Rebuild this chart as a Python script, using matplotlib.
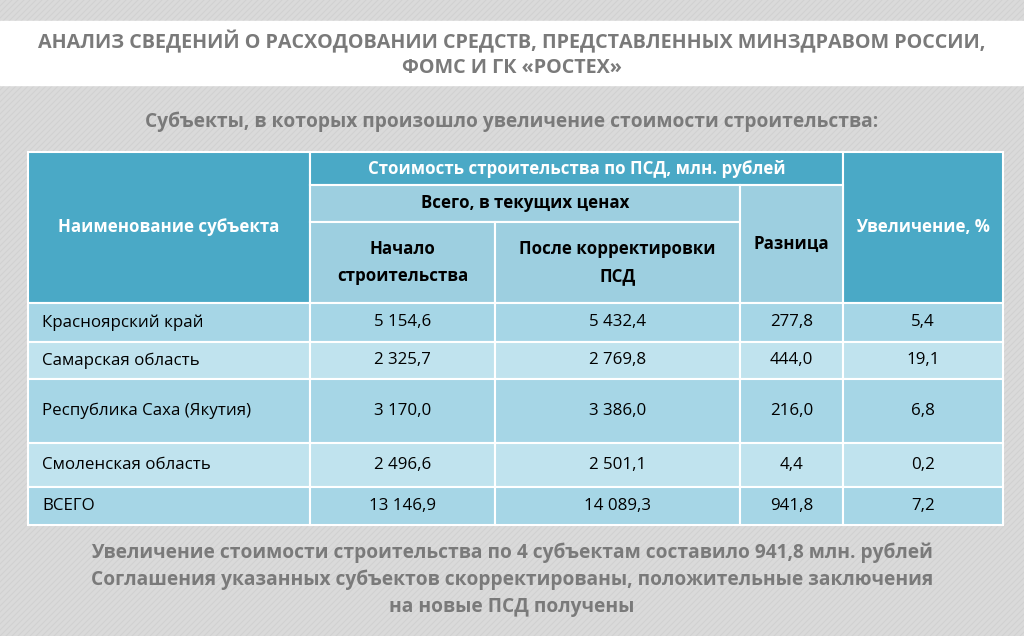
import matplotlib
matplotlib.use("Agg")
import matplotlib.pyplot as plt
from matplotlib.patches import Rectangle

regions = ["Красноярский край", "Самарская область", "Республика Саха (Якутия)", "Смоленская область", "ВСЕГО"]
start_cost = ["5 154,6", "2 325,7", "3 170,0", "2 496,6", "13 146,9"]
after_cost = ["5 432,4", "2 769,8", "3 386,0", "2 501,1", "14 089,3"]
diff = ["277,8", "444,0", "216,0", "4,4", "941,8"]
increase = ["5,4", "19,1", "6,8", "0,2", "7,2"]

W, H = 1024, 636
fig = plt.figure(figsize=(W/100, H/100), dpi=100)
ax = fig.add_axes([0, 0, 1, 1])
ax.set_xlim(0, W); ax.set_ylim(H, 0); ax.axis("off")
FONT = "Open Sans"
plt.rcParams["font.family"] = FONT

ax.add_patch(Rectangle((0, 0), W, H, color="#dadada", zorder=0))
for i in range(-H, W, 6):
    ax.plot([i, i + H], [H, 0], color="#d1d1d1", lw=0.8, zorder=0.5)
ax.add_patch(Rectangle((0, 21), W, 64, color="white", zorder=1))
TS = 14.2
ax.text(512, 42, "АНАЛИЗ СВЕДЕНИЙ О РАСХОДОВАНИИ СРЕДСТВ, ПРЕДСТАВЛЕННЫХ МИНЗДРАВОМ РОССИИ,",
        ha="center", va="center", fontsize=TS, weight="bold", color="#7a7a7a", zorder=3)
ax.text(512, 68, "ФОМС И ГК «РОСТЕХ»", ha="center", va="center", fontsize=TS, weight="bold", color="#7a7a7a", zorder=3)
ax.text(512, 122, "Субъекты, в которых произошло увеличение стоимости строительства:",
        ha="center", va="center", fontsize=13.8, weight="bold", color="#7a7a7a", zorder=3)

dark, light = "#4aa9c6", "#9dcfe0"
rows_c = ["#a6d6e6", "#c0e3ee", "#a6d6e6", "#c0e3ee", "#a6d6e6"]
def cell(x0, y0, x1, y1, c, txt="", tc="black", bold=False, ha="center", fs=12.2):
    ax.add_patch(Rectangle((x0, y0), x1-x0, y1-y0, facecolor=c, edgecolor="white", lw=1.5, zorder=2))
    if txt:
        tx = (x0+x1)/2 if ha == "center" else x0+14
        ax.text(tx, (y0+y1)/2, txt, ha=ha, va="center", fontsize=fs, color=tc,
                weight="bold" if bold else "normal", linespacing=1.6, zorder=3)

cols = [28, 310, 495, 740, 843, 1003]
cell(28, 152, 310, 303, dark, "Наименование субъекта", "white", True)
cell(310, 152, 843, 185, dark, "Стоимость строительства по ПСД, млн. рублей", "white", True)
cell(843, 152, 1003, 303, dark, "Увеличение, %", "white", True)
cell(310, 185, 740, 222, light, "Всего, в текущих ценах", bold=True)
cell(310, 222, 495, 303, light, "Начало\nстроительства", bold=True)
cell(495, 222, 740, 303, light, "После корректировки\nПСД", bold=True)
cell(740, 185, 843, 303, light, "Разница", bold=True)

ys = [303, 342, 379, 443, 487, 525]
for i in range(len(regions)):
    y0, y1 = ys[i], ys[i+1]
    vals = [regions[i], start_cost[i], after_cost[i], diff[i], increase[i]]
    for j, v in enumerate(vals):
        cell(cols[j], y0, cols[j+1], y1, rows_c[i], v, ha="left" if j == 0 else "center")

for k, t in enumerate(["Увеличение стоимости строительства по 4 субъектам составило 941,8 млн. рублей",
                       "Соглашения указанных субъектов скорректированы, положительные заключения",
                       "на новые ПСД получены"]):
    ax.text(512, 553 + k*27, t, ha="center", va="center", fontsize=13.8, weight="bold", color="#7a7a7a", zorder=3)

fig.savefig("out.png", dpi=100)
